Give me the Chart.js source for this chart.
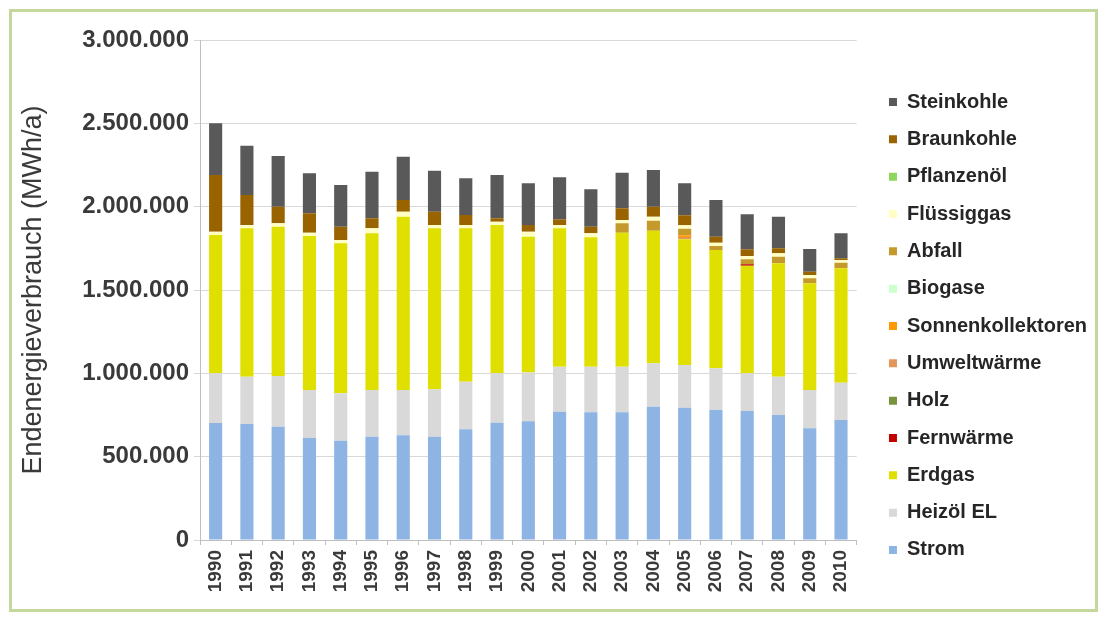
<!DOCTYPE html>
<html lang="de">
<head>
<meta charset="utf-8">
<title>Endenergieverbrauch 1990–2010</title>
<script src="https://cdn.jsdelivr.net/npm/chart.js@4.4.1/dist/chart.umd.min.js"></script>
<style>
  html, body { margin: 0; padding: 0; background: #fff; }
  #wrap { position: relative; width: 1106px; height: 619px; }
  #frame {
    position: absolute; left: 9px; top: 9px; width: 1083px; height: 597px;
    border: 3px solid #c4d89e; pointer-events: none;
  }
  canvas { position: absolute; left: 0; top: 0; }
</style>
</head>
<body>
<div id="wrap">
  <canvas id="chart" width="1106" height="619"></canvas>
  <div id="frame"></div>
</div>
<script>
// Jahre und Werte (MWh/a)
const years = ["1990","1991","1992","1993","1994","1995","1996","1997","1998","1999","2000",
               "2001","2002","2003","2004","2005","2006","2007","2008","2009","2010"];

const strom        = [702000,696000,680000,612000,596000,620000,628000,620000,664000,704000,712000,770000,766000,766000,800000,794000,780000,774000,750000,670000,720000];
const heizoel      = [298000,284000,304000,288000,284000,280000,272000,284000,286000,296000,293000,270000,274000,274000,260000,256000,250000,226000,230000,230000,224000];
const erdgas       = [830000,890000,896000,924000,900000,940000,1040000,966000,920000,890000,815000,830000,776000,804000,796000,754000,710000,646000,680000,640000,686000];
const fernwaerme   = [0,0,0,0,0,0,0,0,0,0,0,0,0,0,0,0,0,8000,0,0,0];
const holz         = [0,0,0,0,0,0,0,0,0,0,0,0,0,0,0,0,0,0,0,0,0];
const umweltwaerme = [0,0,0,0,0,0,0,0,0,0,0,0,0,0,0,14000,0,0,0,0,0];
const sonnenkoll   = [0,0,0,0,0,0,0,0,0,0,0,0,0,0,0,10000,0,0,0,0,0];
const biogase      = [0,0,0,0,0,0,0,0,0,0,0,0,0,0,0,0,0,0,0,0,0];
const abfall       = [0,0,0,0,0,0,0,0,0,0,0,0,0,56000,60000,40000,24000,30000,40000,30000,34000];
const fluessiggas  = [20000,20000,20000,20000,20000,30000,30000,20000,20000,20000,30000,20000,24000,20000,24000,20000,20000,20000,20000,20000,16000];
const pflanzenoel  = [0,0,0,0,0,0,0,0,0,0,0,0,0,0,0,0,0,0,0,0,0];
const braunkohle   = [340000,180000,100000,116000,80000,60000,70000,80000,60000,20000,40000,34000,40000,70000,60000,61000,36000,40000,30000,20000,10000];
const steinkohle   = [310000,296000,304000,240000,250000,280000,260000,246000,220000,260000,250000,252000,224000,214000,220000,191000,220000,210000,190000,136000,150000];

const FONT = "'Liberation Sans', Arial, sans-serif";
const TEXT = "#3a3a3a";

// Reihenfolge = Stapel von unten nach oben
const series = [
  ["Strom", strom, "#8db4e3"],
  ["Heizöl EL", heizoel, "#d9d9d9"],
  ["Erdgas", erdgas, "#e0e000"],
  ["Fernwärme", fernwaerme, "#c00000"],
  ["Holz", holz, "#77933c"],
  ["Umweltwärme", umweltwaerme, "#e3955c"],
  ["Sonnenkollektoren", sonnenkoll, "#ff9900"],
  ["Biogase", biogase, "#ccffcc"],
  ["Abfall", abfall, "#c49a2c"],
  ["Flüssiggas", fluessiggas, "#ffffc4"],
  ["Pflanzenöl", pflanzenoel, "#8fd65a"],
  ["Braunkohle", braunkohle, "#996300"],
  ["Steinkohle", steinkohle, "#595959"]
];

function fmtDe(v) {
  return String(v).replace(/\B(?=(\d{3})+(?!\d))/g, ".");
}

new Chart(document.getElementById("chart"), {
  type: "bar",
  data: {
    labels: years,
    datasets: series.map(([label, data, color]) => ({
      label, data,
      backgroundColor: color,
      borderWidth: 0,
      barPercentage: 0.42,
      categoryPercentage: 1.0
    }))
  },
  options: {
    responsive: false,
    animation: false,
    layout: { padding: { left: 10, top: 40, bottom: 7, right: 9 } },
    plugins: {
      tooltip: { enabled: false },
      legend: {
        position: "right",
        reverse: true,
        maxWidth: 240,
        labels: {
          color: "#262626",
          font: { family: FONT, size: 20, weight: "bold" },
          boxWidth: 8, boxHeight: 8,
          padding: 17.33
        }
      }
    },
    scales: {
      x: {
        stacked: true,
        grid: { display: true, drawOnChartArea: false, drawTicks: true, tickLength: 5, color: "#bfbfbf" },
        border: { color: "#bfbfbf" },
        ticks: {
          color: TEXT, autoSkip: false, minRotation: 90, maxRotation: 90, padding: 5,
          font: { family: FONT, size: 19, weight: "bold" }
        },
        afterFit: s => { s.height = 72; }
      },
      y: {
        stacked: true,
        min: 0, max: 3000000,
        grid: { color: "#d9d9d9", tickLength: 6 },
        border: { color: "#bfbfbf" },
        ticks: {
          stepSize: 500000, padding: 5, color: TEXT,
          font: { family: FONT, size: 24, weight: "bold" },
          callback: v => fmtDe(v)
        },
        title: {
          display: true, text: "Endenergieverbrauch (MWh/a)", color: TEXT,
          font: { family: FONT, size: 27 }, padding: { top: 7 }
        },
        afterFit: s => { s.width = 190; }
      },
      gap: {
        position: "right", display: true,
        grid: { display: false }, border: { display: false },
        ticks: { display: false },
        afterFit: s => { s.width = 15; }
      }
    }
  }
});
</script>
</body>
</html>
